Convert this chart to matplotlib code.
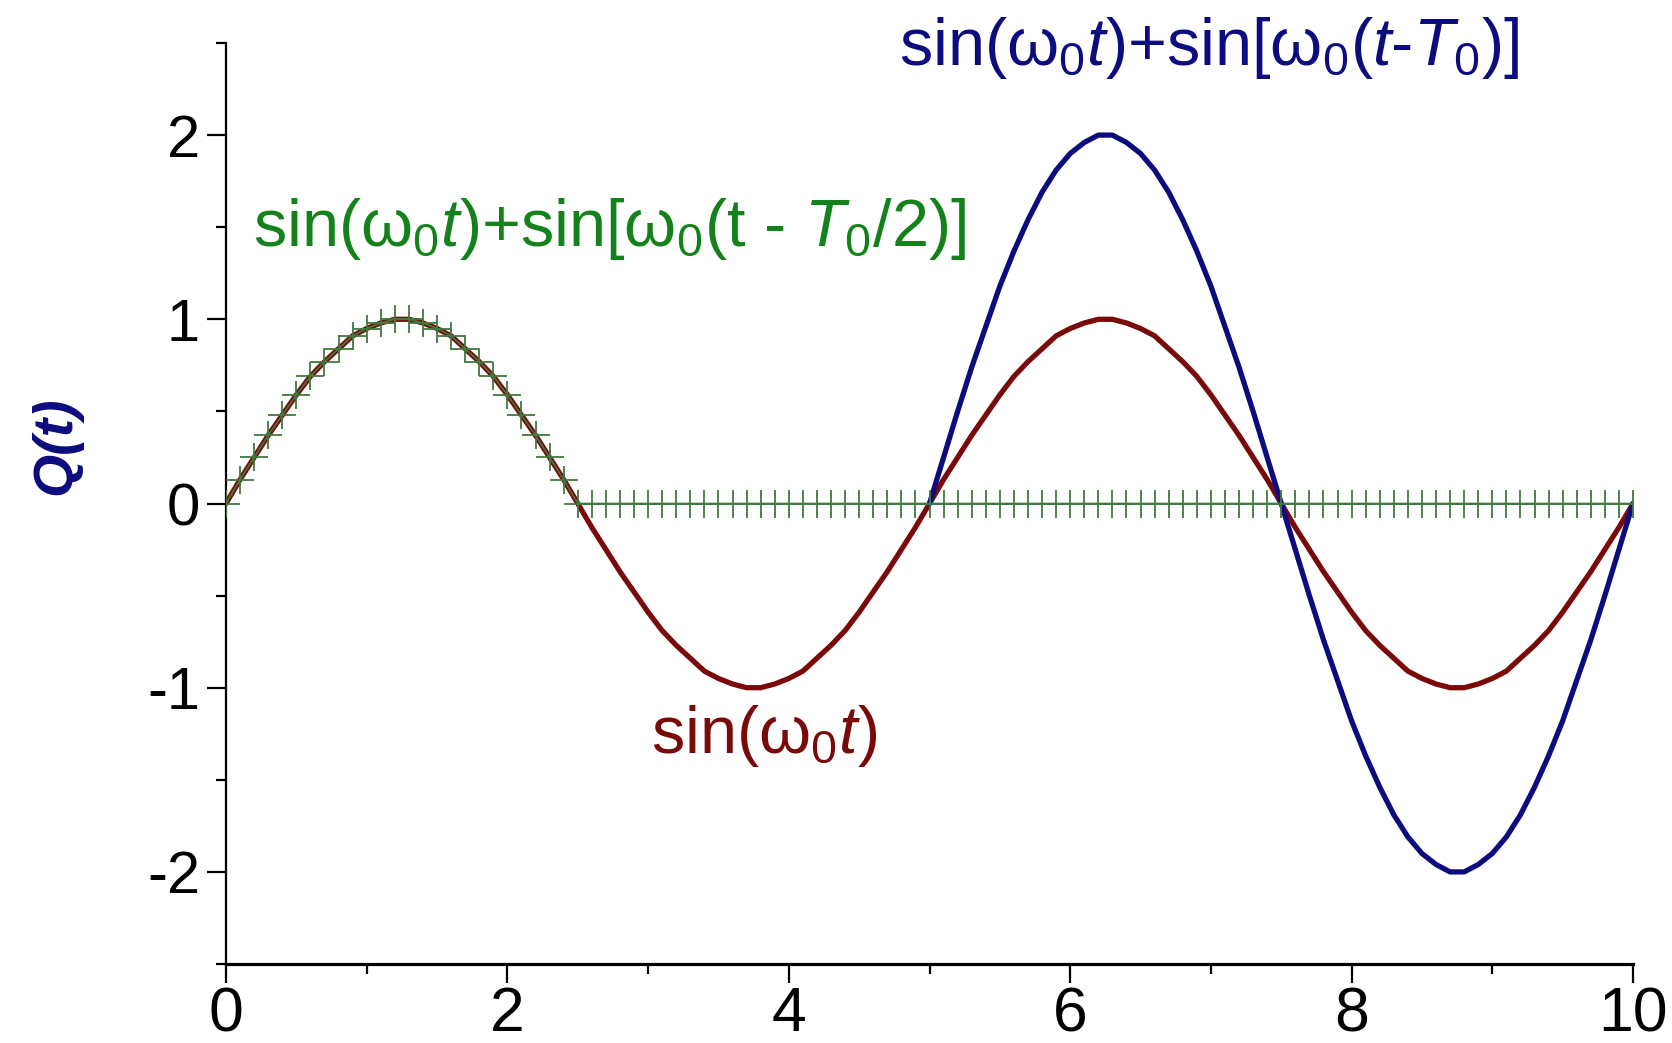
import matplotlib
matplotlib.use("Agg")
import matplotlib.pyplot as plt
from matplotlib.ticker import MultipleLocator

plt.rcParams['font.family'] = ['Liberation Sans', 'DejaVu Sans']
plt.rcParams['mathtext.fontset'] = 'custom'
plt.rcParams['mathtext.rm'] = 'Liberation Sans'
plt.rcParams['mathtext.it'] = 'Liberation Sans:italic'
plt.rcParams['mathtext.bf'] = 'Liberation Sans:bold'

# time axis, step 0.1 from 0 to 10
t = [round(0.1 * k, 1) for k in range(101)]

# Q(t) = sin(w0 t), T0 = 5
q_single = [
    0.00, 0.13, 0.25, 0.37, 0.48, 0.59, 0.69, 0.77, 0.84, 0.91,
    0.95, 0.98, 1.00, 1.00, 0.98, 0.95, 0.91, 0.84, 0.77, 0.69,
    0.59, 0.48, 0.37, 0.25, 0.13, 0.00, -0.13, -0.25, -0.37, -0.48,
    -0.59, -0.69, -0.77, -0.84, -0.91, -0.95, -0.98, -1.00, -1.00, -0.98,
    -0.95, -0.91, -0.84, -0.77, -0.69, -0.59, -0.48, -0.37, -0.25, -0.13,
    0.00, 0.13, 0.25, 0.37, 0.48, 0.59, 0.69, 0.77, 0.84, 0.91,
    0.95, 0.98, 1.00, 1.00, 0.98, 0.95, 0.91, 0.84, 0.77, 0.69,
    0.59, 0.48, 0.37, 0.25, 0.13, 0.00, -0.13, -0.25, -0.37, -0.48,
    -0.59, -0.69, -0.77, -0.84, -0.91, -0.95, -0.98, -1.00, -1.00, -0.98,
    -0.95, -0.91, -0.84, -0.77, -0.69, -0.59, -0.48, -0.37, -0.25, -0.13,
    0.00,
]

# sin(w0 t) + sin[w0 (t - T0)], second wave switched on at t = T0
t_full = t[50:]
q_full = [
    0.00, 0.25, 0.50, 0.74, 0.96, 1.18, 1.37, 1.54, 1.69, 1.81,
    1.90, 1.96, 2.00, 2.00, 1.96, 1.90, 1.81, 1.69, 1.54, 1.37,
    1.18, 0.96, 0.74, 0.50, 0.25, 0.00, -0.25, -0.50, -0.74, -0.96,
    -1.18, -1.37, -1.54, -1.69, -1.81, -1.90, -1.96, -2.00, -2.00, -1.96,
    -1.90, -1.81, -1.69, -1.54, -1.37, -1.18, -0.96, -0.74, -0.50, -0.25,
    0.00,
]

# sin(w0 t) + sin[w0 (t - T0/2)], second wave switched on at t = T0/2
q_half = [
    0.00, 0.13, 0.25, 0.37, 0.48, 0.59, 0.69, 0.77, 0.84, 0.91,
    0.95, 0.98, 1.00, 1.00, 0.98, 0.95, 0.91, 0.84, 0.77, 0.69,
    0.59, 0.48, 0.37, 0.25, 0.13,
] + [0.00] * 76

x_ticks = [0, 2, 4, 6, 8, 10]
y_ticks = [-2, -1, 0, 1, 2]

RED = '#7a0a0a'
BLUE = '#0c0c7e'
GREEN = '#14821a'
MARK = '#3f7a3f'

fig = plt.figure(figsize=(16.72, 10.43), dpi=100)
ax = fig.add_axes([226 / 1672, 1 - 964 / 1043, (1633 - 226) / 1672, (964 - 43) / 1043])

ax.plot(t, q_single, color=RED, lw=3.8, zorder=3, solid_joinstyle='round', solid_capstyle='round')
ax.plot(t_full, q_full, color=BLUE, lw=3.8, zorder=4, solid_joinstyle='round', solid_capstyle='round')
ax.plot(t, q_half, color=MARK, lw=1.2, marker='+', ms=20, mew=1.3, zorder=5)

ax.set_xlim(0, 10)
ax.set_ylim(-2.5, 2.5)

for side in ('top', 'right'):
    ax.spines[side].set_visible(False)
ax.spines['left'].set_linewidth(1.6)
ax.spines['bottom'].set_linewidth(2.3)

ax.xaxis.set_minor_locator(MultipleLocator(1))
ax.yaxis.set_minor_locator(MultipleLocator(0.5))
ax.set_xticks(x_ticks)
ax.set_yticks(y_ticks)
ax.set_xticklabels([str(v) for v in x_ticks], fontsize=45)
ax.set_yticklabels([str(v) for v in y_ticks], fontsize=43)
ax.tick_params(which='major', direction='out', length=13.7, width=1.6, pad=5)
ax.tick_params(which='minor', direction='out', length=7.2, width=1.6)
ax.tick_params(axis='x', which='major', pad=1.5)

fig.text(56 / 1672, 1 - 446 / 1043, 'Q(t)', rotation=90,
         ha='center', va='center', color=BLUE, fontsize=40, fontweight='bold', fontstyle='italic')

ax.text(1209 / 1672, 1 - 48 / 1043, 'sin($\\mathrm{\\omega}_0t$)+sin[$\\mathrm{\\omega}_0$($t$-$T_0$)]',
        transform=fig.transFigure, ha='center', va='center', color=BLUE, fontsize=48)
ax.text(610 / 1672, 1 - 229 / 1043, 'sin($\\mathrm{\\omega}_0t$)+sin[$\\mathrm{\\omega}_0$(t - $T_0$/2)]',
        transform=fig.transFigure, ha='center', va='center', color=GREEN, fontsize=48)
ax.text(764 / 1672, 1 - 736 / 1043, 'sin($\\mathrm{\\omega}_0t$)',
        transform=fig.transFigure, ha='center', va='center', color=RED, fontsize=48)

fig.savefig('out.png', dpi=100)
